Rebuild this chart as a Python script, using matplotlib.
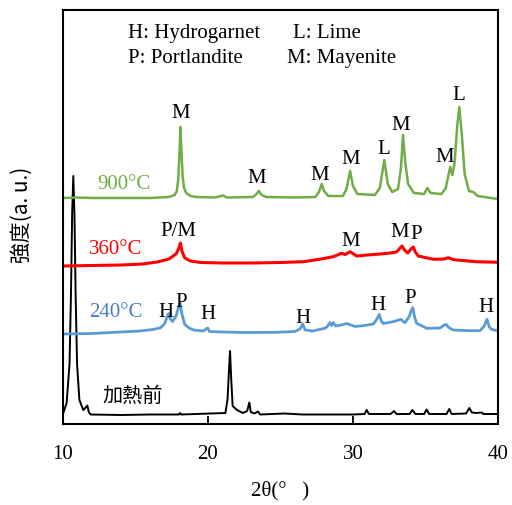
import matplotlib
matplotlib.use("Agg")
import matplotlib.pyplot as plt

# ---------------- data (2theta, offset intensity) ----------------
tt_raw = [10.0, 10.25, 10.45, 10.55, 10.63, 10.71, 10.79, 10.87, 10.97, 11.13, 11.4, 11.6, 11.68, 11.78,
          11.9, 14.0, 16.0, 18.0, 18.07, 18.15, 21.2, 21.35, 21.45, 21.52, 21.6, 21.7, 22.0, 22.4, 22.7,
          22.85, 22.95, 23.2, 23.45, 23.6, 25.3, 26.5, 28.0, 30.0, 30.8, 30.94, 31.1, 32.6, 32.83, 33.0,
          33.9, 34.1, 34.3, 34.9, 35.08, 35.25, 36.45, 36.64, 36.8, 37.8, 38.02, 38.2, 38.5, 38.87, 39.0, 40.0]
i_raw = [10, 21, 60, 130, 210, 248, 210, 130, 60, 24, 14, 17, 18.5, 12,
         9.5, 9, 9.5, 9.5, 11, 9.5, 11, 25, 55, 73, 45, 18, 14, 11, 13,
         21.5, 12, 10.5, 12.5, 9.5, 10.5, 9.5, 9.5, 9.5, 10, 14, 10, 10, 13, 10,
         10, 14, 10, 10, 14.5, 10, 10, 15, 10, 10.5, 16, 11.5, 11, 11.5, 10, 10]

tt_240 = [10.0, 12.0, 14.0, 15.3, 16.2, 16.7, 17.0, 17.2, 17.29, 17.4, 17.56, 17.8, 17.95, 18.07, 18.2,
          18.4, 18.7, 19.0, 19.7, 19.9, 19.98, 20.1, 21.0, 22.5, 24.7, 26.0, 26.35, 26.53, 26.7, 27.2,
          28.0, 28.2, 28.41, 28.52, 28.64, 28.8, 29.2, 29.56, 30.14, 30.8, 31.4, 31.65, 31.81, 31.95,
          32.09, 32.78, 33.15, 33.31, 33.5, 33.59, 33.9, 34.0, 34.12, 34.25, 34.39, 35.08, 36.0, 36.25,
          36.41, 36.6, 36.91, 38.0, 38.76, 39.05, 39.24, 39.4, 39.56, 40.0]
i_240 = [90, 90.5, 92, 93, 94.5, 96, 100, 108, 110.5, 105, 102.5, 108, 116, 121, 110,
         99.5, 96, 94, 93, 95.5, 96, 92.5, 92, 91.5, 91.7, 92.5, 95, 100, 94, 93,
         95.5, 97, 101.5, 98.5, 101.5, 98, 99, 100.5, 97.5, 98.5, 100, 105, 109.5, 103,
         100.5, 102.3, 104, 104.7, 102, 101.5, 108, 113, 116.3, 107, 100.7, 95.7, 96, 98.5,
         99.7, 96.5, 94, 93.3, 93.3, 98, 104.7, 97, 94.7, 93]

tt_360 = [10.0, 12.0, 14.0, 15.5, 16.5, 17.3, 17.8, 18.0, 18.1, 18.2, 18.4, 18.8, 19.5, 21.0, 23.0,
          25.0, 26.6, 27.8, 28.64, 29.2, 29.45, 29.8, 30.25, 31.0, 31.86, 32.6, 33.0, 33.25, 33.38,
          33.55, 33.77, 34.0, 34.16, 34.3, 34.5, 35.54, 36.3, 36.57, 36.9, 37.15, 38.5, 40.0]
i_360 = [158, 158.5, 159, 160, 162, 165, 170, 176, 181, 173, 166, 163, 161.5, 161, 161,
         161.5, 162.3, 165, 167.3, 170.7, 169.5, 172.3, 168, 169, 170, 171, 172, 176, 178,
         174, 171, 175, 177, 172, 168, 164.7, 165, 166.3, 164.5, 164, 162.3, 161.7]

tt_900 = [10.0, 11.0, 12.0, 14.0, 16.0, 17.3, 17.7, 17.85, 17.95, 18.03, 18.1, 18.17, 18.25, 18.35,
          18.5, 18.8, 19.2, 20.5, 20.9, 21.05, 21.3, 23.1, 23.35, 23.5, 23.7, 24.0, 26.0, 27.4, 27.65,
          27.84, 28.0, 28.3, 29.3, 29.55, 29.8, 30.0, 30.3, 31.5, 31.85, 32.16, 32.4, 32.7, 33.1, 33.3,
          33.45, 33.6, 33.8, 34.2, 34.9, 35.13, 35.35, 35.7, 36.1, 36.4, 36.7, 36.85, 37.0, 37.2, 37.33,
          37.5, 37.7, 38.0, 38.3, 38.6, 40.0]
i_900 = [226, 226.5, 226, 226, 226, 227, 229, 233, 245, 270, 297, 272, 248, 236,
         231, 228, 227, 226.5, 228, 228.5, 226.5, 227, 230, 233, 229, 227, 226.5, 227, 232,
         240, 233, 228, 228, 235, 253, 238, 230, 229, 236, 264, 240, 232, 235, 255,
         289, 262, 240, 231, 230, 236, 231, 230.5, 230, 236, 257, 249, 260, 300, 317,
         290, 250, 233, 232, 228, 225]

# peak labels: (text, 2theta, baseline height)
lab_900 = [("M", 18.14, 306), ("M", 23.38, 241), ("M", 27.70, 244), ("M", 29.83, 260),
           ("L", 32.14, 270), ("M", 33.31, 294), ("M", 36.31, 262), ("L", 37.26, 324)]
lab_360 = [("P/M", 17.98, 188), ("M", 29.83, 178), ("M", 33.24, 187), ("P", 34.34, 185)]
lab_240 = [("H", 17.10, 107), ("P", 18.17, 117), ("H", 20.0, 105), ("H", 26.53, 101.3),
           ("H", 31.72, 114), ("P", 33.93, 121), ("H", 39.17, 112.3)]

series_names = ["加熱前", "240℃", "360℃", "900℃"]
legend_lines = [("H: Hydrogarnet", 14.48, 385.7), ("L: Lime", 25.86, 385.7),
                ("P: Portlandite", 14.48, 360.7), ("M: Mayenite", 25.45, 360.7)]
xticks = [10, 20, 30, 40]

# ---------------- plot ----------------
plt.rcParams['font.family'] = ['Liberation Serif', 'DejaVu Serif']
GREEN, RED, BLUE, BLUE_T = "#70AD47", "#FF0000", "#5B9BD5", "#4A7BC8"

fig = plt.figure(figsize=(5.12, 5.05), dpi=100)
ax = fig.add_axes([63/512, 1-424/505, 435/512, 414/505])

ax.plot(tt_raw, i_raw, color="black", lw=1.4)
ax.plot(tt_240, i_240, color=BLUE, lw=2.0)
ax.plot(tt_360, i_360, color=RED, lw=2.2)
ax.plot(tt_900, i_900, color=GREEN, lw=1.8)

fs = 15
for lab, x, y in lab_900 + lab_360 + lab_240:
    ax.text(x, y, lab, ha="center", va="baseline", fontsize=fs)

ax.text(12.4, 234.7, series_names[3].replace("℃", "°C"), color=GREEN, fontsize=fs, va="baseline")
ax.text(11.78, 169.5, series_names[2].replace("℃", "°C"), color=RED, fontsize=fs, va="baseline")
ax.text(11.78, 107.3, series_names[1].replace("℃", "°C"), color=BLUE_T, fontsize=fs, va="baseline")
ax.text(12.72, 27.5, series_names[0], color="black", fontsize=14.5, va="center",
        family=["Noto Sans CJK JP", "DejaVu Sans"])

for t, x, y in legend_lines:
    ax.text(x, y, t, fontsize=fs, va="baseline")

ax.set_xlim(10, 40)
ax.set_ylim(0, 414)
ax.set_xticks(xticks)
ax.set_yticks([])
ax.tick_params(axis="x", direction="in", length=6, width=1.3, labelsize=fs, pad=15)
for s in ax.spines.values():
    s.set_linewidth(1.5)

fig.text(280/512, 1-491/505, "2θ(°   )", ha="center", va="center", fontsize=fs)
fig.text(22/512, 1-215/505, "強度(a. u.)", rotation=90, ha="center", va="center", fontsize=15,
         family=["Noto Sans CJK JP", "DejaVu Sans"])

fig.savefig("out.png", dpi=100)
